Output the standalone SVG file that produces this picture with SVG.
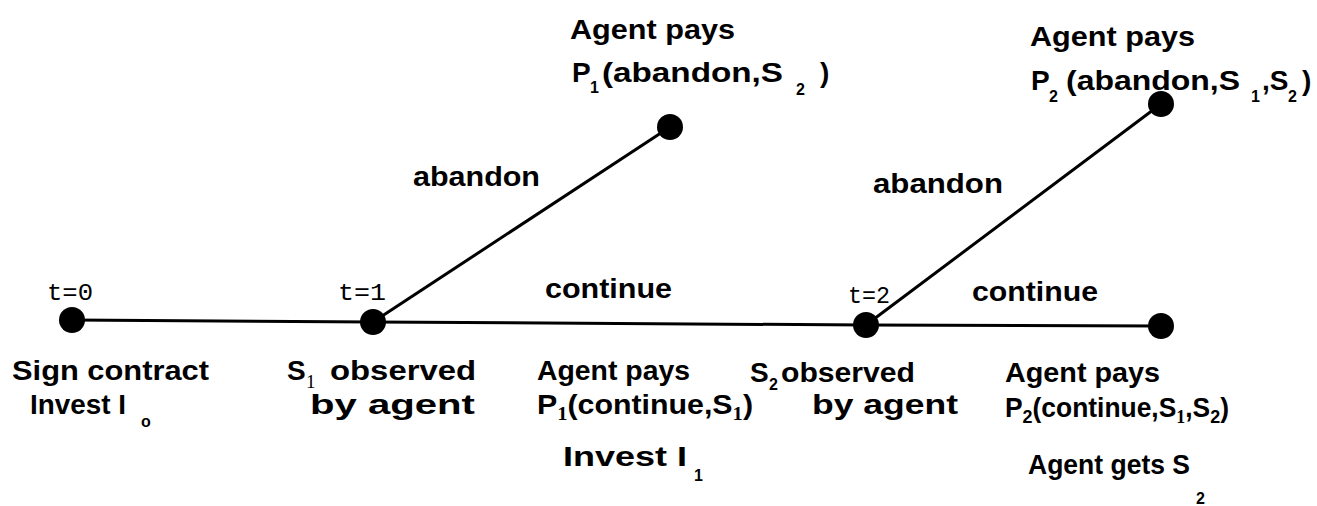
<svg xmlns="http://www.w3.org/2000/svg" width="1317" height="506" viewBox="0 0 1317 506">
<style>
.t{font-family:"Liberation Sans",Arial,sans-serif;font-size:28px;font-weight:bold;fill:#000}
.s{font-family:"Liberation Sans",Arial,sans-serif;font-size:16px;font-weight:bold;fill:#000}
.r{font-family:"Liberation Serif","Times New Roman",serif;font-size:19px;fill:#000}
.m{font-family:"Liberation Mono","Courier New",monospace;font-size:24px;fill:#000}
.e{stroke:#000;stroke-width:3;fill:none}
.n{fill:#000}
</style>
<rect width="1317" height="506" fill="#fff"/>
<g id="connectors">
<line class="e" x1="72" y1="320" x2="373" y2="322"/>
<line class="e" x1="373" y1="322" x2="866" y2="325"/>
<line class="e" x1="866" y1="325" x2="1161" y2="326"/>
<line class="e" x1="373" y1="322" x2="670" y2="127"/>
<line class="e" x1="866" y1="325" x2="1161" y2="104"/>
</g>
<g id="node-t0">
<circle class="n" cx="72" cy="320" r="13"/>
<text class="m" x="47" y="300" textLength="46" lengthAdjust="spacingAndGlyphs">t=0</text>
<text class="t" x="12" y="380" textLength="197" lengthAdjust="spacingAndGlyphs">Sign contract</text>
<text class="t" x="30" y="414" textLength="96" lengthAdjust="spacingAndGlyphs">Invest I</text>
<text class="s" x="141" y="427" font-size="20">o</text>
</g>
<g id="node-t1">
<circle class="n" cx="373" cy="322" r="13"/>
<text class="m" x="338" y="300" textLength="48" lengthAdjust="spacingAndGlyphs">t=1</text>
<text class="t" x="287" y="380">S</text>
<text class="r" x="306" y="388">1</text>
<text class="t" x="330" y="380" textLength="146" lengthAdjust="spacingAndGlyphs">observed</text>
<text class="t" x="310" y="414" textLength="165" lengthAdjust="spacingAndGlyphs">by agent</text>
</g>
<g id="node-abandon1">
<circle class="n" cx="670" cy="127" r="13"/>
<text class="t" x="570" y="39" textLength="165" lengthAdjust="spacingAndGlyphs">Agent pays</text>
<text class="t" x="572" y="82">P</text>
<text class="s" x="590" y="93">1</text>
<text class="t" x="602" y="82" textLength="181" lengthAdjust="spacingAndGlyphs">(abandon,S</text>
<text class="s" x="796" y="95">2</text>
<text class="t" x="820" y="82">)</text>
</g>
<g id="node-t2">
<circle class="n" cx="866" cy="325" r="13"/>
<text class="m" x="848" y="303" textLength="42" lengthAdjust="spacingAndGlyphs">t=2</text>
<text class="t" x="750" y="382">S</text>
<text class="s" x="769" y="390">2</text>
<text class="t" x="781" y="382" textLength="134" lengthAdjust="spacingAndGlyphs">observed</text>
<text class="t" x="812" y="414" textLength="146" lengthAdjust="spacingAndGlyphs">by agent</text>
</g>
<g id="node-abandon2">
<circle class="n" cx="1161" cy="104" r="13"/>
<text class="t" x="1030" y="46" textLength="165" lengthAdjust="spacingAndGlyphs">Agent pays</text>
<text class="t" x="1031" y="90">P</text>
<text class="s" x="1049" y="102">2</text>
<text class="t" x="1066" y="90" textLength="174" lengthAdjust="spacingAndGlyphs">(abandon,S</text>
<text class="s" x="1251" y="102">1</text>
<text class="t" x="1262" y="90">,S</text>
<text class="s" x="1288" y="102">2</text>
<text class="t" x="1302" y="90">)</text>
</g>
<g id="node-end">
<circle class="n" cx="1161" cy="326" r="13"/>
</g>
<g id="labels">
<text class="t" x="413" y="186" textLength="127" lengthAdjust="spacingAndGlyphs">abandon</text>
<text class="t" x="873" y="193" textLength="130" lengthAdjust="spacingAndGlyphs">abandon</text>
<text class="t" x="545" y="298" textLength="127" lengthAdjust="spacingAndGlyphs">continue</text>
<text class="t" x="972" y="301" textLength="126" lengthAdjust="spacingAndGlyphs">continue</text>
<text class="t" x="537" y="380" textLength="153" lengthAdjust="spacingAndGlyphs">Agent pays</text>
<text class="t" x="537" y="414" textLength="216" lengthAdjust="spacingAndGlyphs">P<tspan class="r" dy="6">1</tspan><tspan dy="-6">(continue,S</tspan><tspan class="r" dy="6">1</tspan><tspan dy="-6">)</tspan></text>
<text class="t" x="563" y="466" textLength="124" lengthAdjust="spacingAndGlyphs">Invest I</text>
<text class="s" x="694" y="481">1</text>
<text class="t" x="1005" y="382" textLength="155" lengthAdjust="spacingAndGlyphs">Agent pays</text>
<text class="t" x="1005" y="417" textLength="224" lengthAdjust="spacingAndGlyphs">P<tspan font-size="19" dy="6">2</tspan><tspan dy="-6">(continue,S</tspan><tspan class="r" dy="6">1</tspan><tspan dy="-6">,S</tspan><tspan font-size="19" dy="6">2</tspan><tspan dy="-6">)</tspan></text>
<text class="t" x="1028" y="474" font-size="29" textLength="162" lengthAdjust="spacingAndGlyphs">Agent gets S</text>
<text class="s" x="1196" y="504" font-size="16">2</text>
</g>
</svg>
